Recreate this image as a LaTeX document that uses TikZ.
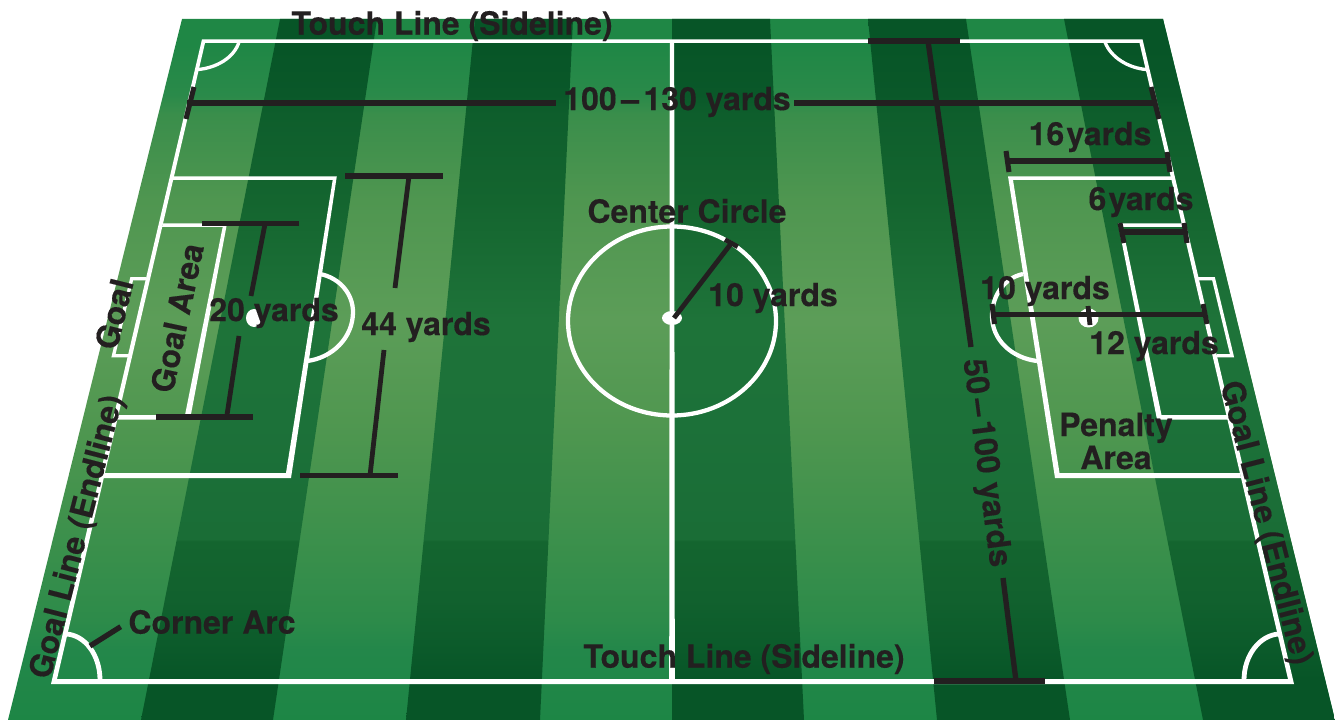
\documentclass[tikz,border=0pt]{standalone}
\usepackage{fontspec}
\setmainfont{TeX Gyre Heros}[BoldFont={TeX Gyre Heros Bold},BoldFeatures={FakeBold=0.25}]
\definecolor{ink}{HTML}{231F20}
\pgfdeclareverticalshading{lightgrass}{100bp}{rgb(0bp)=(0.114,0.525,0.271); rgb(25bp)=(0.114,0.525,0.271); rgb(30bp)=(0.137,0.529,0.290); rgb(32.1bp)=(0.176,0.545,0.290); rgb(39.3bp)=(0.247,0.569,0.298); rgb(46.4bp)=(0.314,0.592,0.314); rgb(53.5bp)=(0.361,0.616,0.345); rgb(62.1bp)=(0.310,0.588,0.314); rgb(68.2bp)=(0.227,0.557,0.294); rgb(69.6bp)=(0.165,0.541,0.290); rgb(73.1bp)=(0.122,0.529,0.271); rgb(100bp)=(0.122,0.529,0.271)}
\pgfdeclareverticalshading{darkgrass}{100bp}{rgb(0bp)=(0.027,0.333,0.153); rgb(27.85bp)=(0.027,0.333,0.153); rgb(30bp)=(0.043,0.353,0.165); rgb(33.6bp)=(0.067,0.380,0.180); rgb(37.75bp)=(0.078,0.396,0.184); rgb(37.9bp)=(0.102,0.427,0.212); rgb(46.4bp)=(0.110,0.443,0.224); rgb(53.5bp)=(0.118,0.451,0.224); rgb(62.1bp)=(0.078,0.396,0.184); rgb(68.2bp)=(0.055,0.369,0.173); rgb(69.6bp)=(0.039,0.345,0.161); rgb(73.1bp)=(0.027,0.333,0.153); rgb(100bp)=(0.027,0.333,0.153)}
\tikzset{
  dimline/.style={draw=ink,line width=4pt},
  dimthin/.style={draw=ink,line width=3.6pt},
  tickline/.style={draw=ink,line width=3.8pt},
  chalk/.style={draw=white,line width=3.2pt},
  chalkthin/.style={draw=white,line width=2.5pt},
  chalkfill/.style={fill=white,even odd rule},
  lbl/.style={text=ink,font=\fontsize{24pt}{24.75pt}\selectfont\bfseries,inner sep=0pt,outer sep=0pt},
  tight/.style={execute at begin node={\spaceskip=.07em\relax}},
  lightstripe/.style={shading=lightgrass},
  darkstripe/.style={shading=darkgrass},
}
\newcommand{\tightgap}[1]{{\spaceskip=.14em\relax #1}}
\begin{document}
\begin{tikzpicture}[x=0.75pt,y=-0.75pt]
\useasboundingbox (0,0) rectangle (1335,720);
% turf
\path[lightstripe] (182,19) -- (1163,19) -- (1335,720) -- (8,720) -- cycle;
\path[darkstripe] (280,19) -- (377,19) -- (273,720) -- (141,720) -- cycle;
\path[darkstripe] (475,19) -- (573,19) -- (540,720) -- (406,720) -- cycle;
\path[darkstripe] (672,19) -- (770,19) -- (804,720) -- (672,720) -- cycle;
\path[darkstripe] (868,19) -- (966,19) -- (1070,720) -- (937,720) -- cycle;
\path[darkstripe] (1064,19) -- (1163,19) -- (1335,720) -- (1203,720) -- cycle;
% outer lines
\fill[chalkfill] (202,39.3) -- (1142.5,39.3) -- (1294,684) -- (51,684) -- cycle
  (205,43) -- (1139.5,43) -- (1288,679) -- (57,679) -- cycle;
\fill[white] (669.8,41) -- (674.2,41) -- (674.8,681) -- (669.2,681) -- cycle;
% penalty areas
\fill[white] (172,176.3) -- (336.8,176.3) -- (291,478) -- (103,478) -- (104,473) -- (286,473) -- (332.7,180) -- (171,180) -- cycle;
\fill[white] (1172,176.3) -- (1008,176.3) -- (1055,478) -- (1241,478) -- (1240,473) -- (1059.5,473) -- (1013,180) -- (1172,180) -- cycle;
% goal areas
\fill[white] (163,223.5) -- (227,223.5) -- (190,419.5) -- (117,419.5) -- (118,415) -- (185,415) -- (222.7,227) -- (162,227) -- cycle;
\fill[white] (1184,223.5) -- (1118,223.5) -- (1157,419.5) -- (1228,419.5) -- (1227,415) -- (1161.5,415) -- (1122.5,227) -- (1184,227) -- cycle;
% goals
\draw[chalkthin,miter limit=10] (146,278.7) -- (131.7,278.7) -- (113.5,355.7) -- (129,355.7);
\draw[chalkthin,miter limit=10] (1198,278.7) -- (1213.5,278.7) -- (1232,355.7) -- (1217,355.7);
% penalty arcs
\draw[chalk] (320,274) .. controls (340,278) and (353,294) .. (353,312) .. controls (353,338) and (332,358) .. (307,361);
\draw[chalk] (1023,274) .. controls (1004,278) and (992,296) .. (992,316) .. controls (992,340) and (1012,358) .. (1037,361);
% spots
\fill[white] (254,318) ellipse [x radius=8,y radius=9];
\fill[white] (1088.5,318) ellipse [x radius=10,y radius=9.5];
\fill[white] (672,318) ellipse [x radius=10,y radius=7];
% centre circle
\draw[chalk] (672,321) ellipse [x radius=104,y radius=94.5];
% corner arcs
\draw[chalkthin] (239,42) .. controls (234,58) and (216,68) .. (198,69.5);
\draw[chalkthin] (1105,42) .. controls (1111,58) and (1129,68) .. (1146,69.5);
\draw[chalk,line width=3.6pt] (66,634) .. controls (85,635) and (100,655) .. (100,680);
\draw[chalk,line width=3.6pt] (1279,634) .. controls (1260,635) and (1244,655) .. (1244,680);
% labels
\node[lbl] (touchtop) at (452,26) {Touch Line (Sideline)};
\node[lbl] (len) at (677,102) {\tightgap{100 – 130} yards};
\node[lbl,tight] (six) at (1090,137) {16 yards};
\node[lbl,tight] (sixb) at (1141,202) {6 yards};
\node[lbl] (cc) at (687,211) {Center Circle};
\node[lbl] (ccr) at (773,298) {10 yards};
\node[lbl] (tenb) at (1045,291) {10 yards};
\node[lbl] (twelve) at (1154,346) {12 yards};
\node[lbl,align=center] (pen) at (1116,441) {Penalty\\Area};
\node[lbl] (touchbot) at (744,659) {Touch Line (Sideline)};
\node[lbl] (arc) at (212,622) {Corner Arc};
\node[lbl] (fortyfour) at (426,327) {44 yards};
\node[lbl] (twenty) at (274,313) {20 yards};
\node[lbl,rotate=76] (goal) at (114,314) {Goal};
\node[lbl,rotate=78] (goalarea) at (177,318) {Goal Area};
\node[lbl,rotate=75.5] (glleft) at (78,537) {Goal Line (Endline)};
\node[lbl,rotate=-75.5] (glright) at (1265,523) {Goal Line (Endline)};
\node[lbl,rotate=-82.5] (wid) at (985,463) {\tightgap{50 – 100} yards};
% length dimension
\coordinate (la) at (187,103); \coordinate (lb) at (556,103);
\coordinate (lc) at (794,103); \coordinate (ld) at (1155,103);
\coordinate (lta) at (194,87); \coordinate (ltb) at (186,119);
\coordinate (ltc) at (1151,87); \coordinate (ltd) at (1159,119);
\draw[dimline] (la) -- (lb); \draw[dimline] (lc) -- (ld);
\draw[tickline] (lta) -- (ltb); \draw[tickline] (ltc) -- (ltd);
% 16 yards
\coordinate (sa) at (1007,161); \coordinate (sb) at (1169,161);
\coordinate (sta) at (1006,151); \coordinate (stb) at (1009,172);
\coordinate (stc) at (1167,152); \coordinate (std) at (1170,172);
\draw[dimline] (sa) -- (sb); \draw[tickline] (sta) -- (stb); \draw[tickline] (stc) -- (std);
% 6 yards
\coordinate (ga) at (1121,232); \coordinate (gb) at (1186,232);
\coordinate (gta) at (1120,223); \coordinate (gtb) at (1124,243);
\coordinate (gtc) at (1184,223); \coordinate (gtd) at (1187,243);
\draw[dimline] (ga) -- (gb); \draw[tickline] (gta) -- (gtb); \draw[tickline] (gtc) -- (gtd);
% 10/12 yards
\coordinate (ra) at (992,314.5); \coordinate (rb) at (1205,314.5);
\coordinate (rta) at (992,304); \coordinate (rtb) at (994.5,324);
\coordinate (rtc) at (1203,304); \coordinate (rtd) at (1207,324);
\coordinate (rte) at (1088,306); \coordinate (rtf) at (1090,325);
\draw[dimline] (ra) -- (rb); \draw[tickline] (rta) -- (rtb); \draw[tickline] (rtc) -- (rtd);
\draw[dimthin] (rte) -- (rtf);
% width dimension
\coordinate (wa) at (868,41); \coordinate (wb) at (960,41);
\coordinate (wc) at (928,41); \coordinate (wd) at (971,347);
\coordinate (we) at (934,681); \coordinate (wf) at (1045,681);
\coordinate (wg) at (1003,578); \coordinate (wh) at (1016,681);
\draw[dimline] (wa) -- (wb); \draw[dimline] (we) -- (wf);
\draw[dimline] (wc) -- (wd); \draw[dimline] (wg) -- (wh);
% 44 yards
\coordinate (fa) at (345,176); \coordinate (fb) at (443,176);
\coordinate (fc) at (409,176); \coordinate (fd) at (395,288);
\coordinate (fe) at (300,475.5); \coordinate (ff) at (398,475.5);
\coordinate (fg) at (384,350); \coordinate (fh) at (370,475.5);
\draw[dimline] (fa) -- (fb); \draw[dimline] (fe) -- (ff);
\draw[dimthin] (fc) -- (fd); \draw[dimthin] (fg) -- (fh);
% 20 yards
\coordinate (ta) at (202,223.5); \coordinate (tb) at (299,223.5);
\coordinate (tc) at (265,224); \coordinate (td) at (251,296);
\coordinate (te) at (156,417); \coordinate (tf) at (253,417);
\coordinate (tg) at (239,336); \coordinate (th) at (226.7,417);
\draw[dimline] (ta) -- (tb); \draw[dimline] (te) -- (tf);
\draw[dimthin] (tc) -- (td); \draw[dimthin] (tg) -- (th);
% centre radius
\coordinate (ca) at (674,318); \coordinate (cb) at (731.5,243);
\coordinate (cc1) at (725,239.6); \coordinate (cc2) at (737.7,246.8);
\draw[dimthin] (ca) -- (cb); \draw[dimthin] (cc1) -- (cc2);
% corner arc leader
\coordinate (aa) at (90,646); \coordinate (ab) at (120.7,626.7);
\draw[dimline] (aa) -- (ab);
\end{tikzpicture}
\end{document}
